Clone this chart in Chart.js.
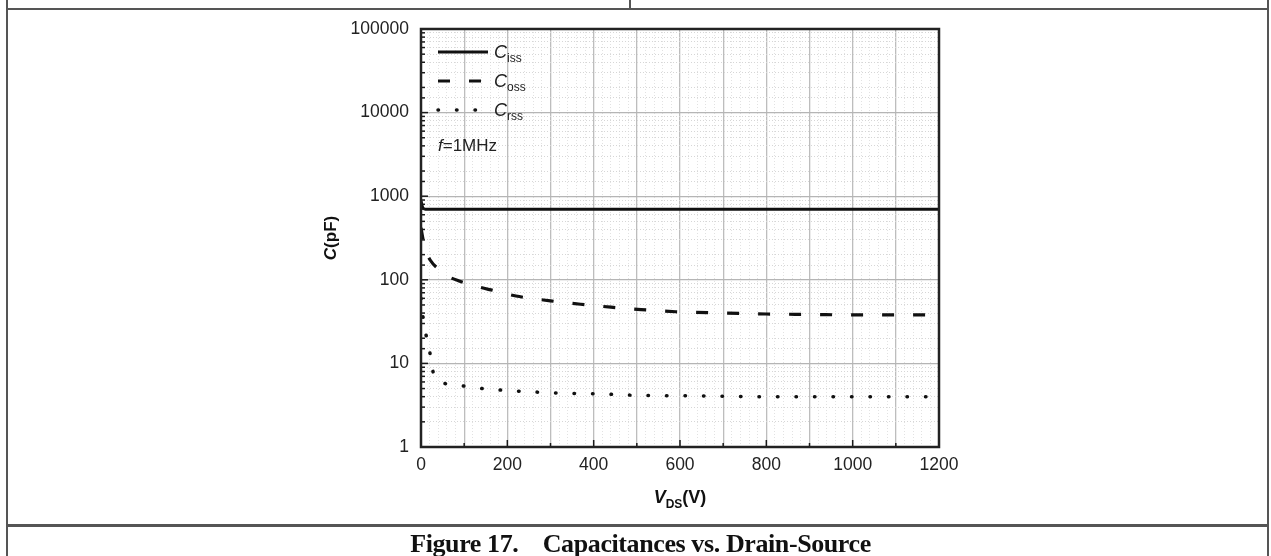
<!DOCTYPE html>
<html>
<head>
<meta charset="utf-8">
<script src="https://cdn.jsdelivr.net/npm/chart.js@4.4.1/dist/chart.umd.min.js"></script>
<style>
  html, body { margin: 0; padding: 0; background: #fff; }
  #page { position: relative; width: 1271px; height: 556px; overflow: hidden; background: #fff; }
  .rule { position: absolute; background: #555; }
  #chart { position: absolute; left: 0; top: 0; }
  #caption {
    position: absolute; left: 0; width: 1281px; top: 531px; text-align: center;
    font-family: "Liberation Serif", "Times New Roman", serif; font-weight: bold;
    font-size: 26px; line-height: 26px; color: #111; letter-spacing: -0.4px; white-space: pre;
  }
</style>
</head>
<body>
<div id="page">
  <div class="rule" style="left:6px; top:0; width:2px; height:556px;"></div>
  <div class="rule" style="left:1267px; top:0; width:2px; height:556px;"></div>
  <div class="rule" style="left:6px; top:8px; width:1263px; height:2px;"></div>
  <div class="rule" style="left:629px; top:0; width:2px; height:9px;"></div>
  <div class="rule" style="left:6px; top:524px; width:1263px; height:3px;"></div>
  <canvas id="chart" width="1271" height="556"></canvas>
  <div id="caption">Figure 17.    Capacitances vs. Drain-Source</div>
</div>
<script>
// Ciss / Coss / Crss vs VDS, f = 1 MHz
const cissV = [0, 4, 10, 100, 400, 800, 1200];
const cissC = [880, 730, 700, 700, 700, 700, 700];

const cossV = [0, 5, 12, 22, 40, 60, 90, 130, 170, 220, 300, 370, 440, 510, 590, 700, 800, 900, 1000, 1100, 1200];
const cossC = [420, 300, 220, 170, 135, 112, 96, 83, 74, 64, 56, 51, 47, 44, 41.5, 40, 39, 38.5, 38, 38, 38];

const crssV = [0, 5, 10, 17, 32, 74, 116, 157, 199, 245, 328, 420, 500, 600, 700, 800, 1000, 1200];
const crssC = [60, 35, 24, 17, 6.8, 5.6, 5.2, 4.9, 4.75, 4.6, 4.4, 4.3, 4.15, 4.1, 4.05, 4.0, 4.0, 4.0];

const yTickLabels = ["1", "10", "100", "1000", "10000", "100000"];
const xMajorStep = 200;

const textColor = "#222";
const lineColor = "#111";
const sans = "'Liberation Sans', Arial, sans-serif";

function toPoints(xs, ys) {
  return xs.map((v, i) => ({ x: v, y: ys[i] }));
}

function isDecade(v) {
  const l = Math.log10(v);
  return Math.abs(l - Math.round(l)) < 1e-9;
}

const overlayPlugin = {
  id: "overlay",
  afterDraw(chart) {
    const { ctx, chartArea: a, scales } = chart;
    const x = scales.x, y = scales.y;
    ctx.save();
    ctx.strokeStyle = "#1a1a1a";
    ctx.lineWidth = 1.5;
    // inward tick marks
    y.ticks.forEach((t) => {
      const py = y.getPixelForValue(t.value);
      const len = isDecade(t.value) ? 7 : 4;
      ctx.beginPath();
      ctx.moveTo(a.left, py);
      ctx.lineTo(a.left + len, py);
      ctx.stroke();
    });
    x.ticks.forEach((t) => {
      if (t.value % 100 !== 0) return;
      const px = x.getPixelForValue(t.value);
      const len = t.value % xMajorStep === 0 ? 7 : 4;
      ctx.beginPath();
      ctx.moveTo(px, a.bottom);
      ctx.lineTo(px, a.bottom - len);
      ctx.stroke();
    });
    // frame
    ctx.lineWidth = 2.5;
    ctx.strokeStyle = "#222";
    ctx.strokeRect(a.left, a.top, a.right - a.left, a.bottom - a.top);

    // legend
    const entries = [
      { sub: "iss", dash: [], cap: "butt" },
      { sub: "oss", dash: [12, 19], cap: "butt" },
      { sub: "rss", dash: [0.5, 18], cap: "round" },
    ];
    const lx = a.left + 17;
    entries.forEach((e, i) => {
      const ly = a.top + 23 + i * 29;
      ctx.beginPath();
      ctx.setLineDash(e.dash);
      ctx.lineCap = e.cap;
      ctx.lineWidth = e.sub === "rss" ? 3.5 : 3;
      ctx.strokeStyle = lineColor;
      ctx.moveTo(lx, ly);
      ctx.lineTo(lx + 50, ly);
      ctx.stroke();
      ctx.setLineDash([]);
      ctx.fillStyle = "#222";
      ctx.textBaseline = "alphabetic";
      ctx.font = "italic 18px " + sans;
      ctx.fillText("C", lx + 56, ly + 6);
      const cw = ctx.measureText("C").width;
      ctx.font = "12px " + sans;
      ctx.fillText(e.sub, lx + 56 + cw, ly + 10);
    });
    ctx.font = "italic 17px " + sans;
    ctx.fillStyle = "#222";
    ctx.fillText("f", lx, a.top + 122);
    const fw = ctx.measureText("f").width;
    ctx.font = "17px " + sans;
    ctx.fillText("=1MHz", lx + fw, a.top + 122);

    // axis titles
    ctx.fillStyle = "#111";
    ctx.save();
    ctx.translate(336, (a.top + a.bottom) / 2);
    ctx.rotate(-Math.PI / 2);
    ctx.textAlign = "left";
    ctx.font = "bold italic 17px " + sans;
    const c1 = ctx.measureText("C").width;
    ctx.font = "bold 17px " + sans;
    const c2 = ctx.measureText("(pF)").width;
    const start = -(c1 + c2) / 2;
    ctx.font = "bold italic 17px " + sans;
    ctx.fillText("C", start, 0);
    ctx.font = "bold 17px " + sans;
    ctx.fillText("(pF)", start + c1, 0);
    ctx.restore();

    const cx = (a.left + a.right) / 2;
    const by = 503;
    ctx.font = "bold italic 18px " + sans;
    const w1 = ctx.measureText("V").width;
    ctx.font = "bold 12px " + sans;
    const w2 = ctx.measureText("DS").width;
    ctx.font = "bold 18px " + sans;
    const w3 = ctx.measureText("(V)").width;
    let sx = cx - (w1 + w2 + w3) / 2;
    ctx.font = "bold italic 18px " + sans;
    ctx.fillText("V", sx, by);
    ctx.font = "bold 12px " + sans;
    ctx.fillText("DS", sx + w1, by + 5);
    ctx.font = "bold 18px " + sans;
    ctx.fillText("(V)", sx + w1 + w2, by);
    ctx.restore();
  },
};

const canvas = document.getElementById("chart");
new Chart(canvas, {
  type: "scatter",
  data: {
    datasets: [
      {
        label: "Ciss",
        data: toPoints(cissV, cissC),
        showLine: true,
        borderColor: lineColor,
        borderWidth: 3,
        pointRadius: 0,
        cubicInterpolationMode: "monotone",
      },
      {
        label: "Coss",
        data: toPoints(cossV, cossC),
        showLine: true,
        borderColor: lineColor,
        borderWidth: 3.2,
        borderDash: [12, 19],
        pointRadius: 0,
        cubicInterpolationMode: "monotone",
      },
      {
        label: "Crss",
        data: toPoints(crssV, crssC),
        showLine: true,
        borderColor: lineColor,
        borderWidth: 3.5,
        borderDash: [0.5, 18],
        borderCapStyle: "round",
        pointRadius: 0,
        cubicInterpolationMode: "monotone",
      },
    ],
  },
  options: {
    responsive: false,
    animation: false,
    layout: { padding: { left: 300, right: 332, top: 29, bottom: 0 } },
    plugins: {
      legend: { display: false },
      tooltip: { enabled: false },
    },
    scales: {
      x: {
        type: "linear",
        min: 0,
        max: 1200,
        afterFit: (scale) => { scale.height = 109; },
        ticks: {
          stepSize: 20,
          autoSkip: false,
          maxRotation: 0,
          padding: 8,
          color: textColor,
          font: { family: sans, size: 17.5 },
          callback: (v) => (v % xMajorStep === 0 ? String(v) : ""),
        },
        grid: {
          drawTicks: false,
          color: (c) => (c.tick && c.tick.value % 100 === 0 ? "#bdbdbd" : "#e2e2e2"),
          lineWidth: (c) => (c.tick && c.tick.value % 100 === 0 ? 1.3 : 1),
        },
        border: {
          display: false,
          dash: (c) => (c.tick && c.tick.value % 100 === 0 ? [] : [1, 2]),
        },
      },
      y: {
        type: "logarithmic",
        min: 1,
        max: 100000,
        afterFit: (scale) => { scale.width = 121; },
        ticks: {
          autoSkip: false,
          padding: 12,
          color: textColor,
          font: { family: sans, size: 17.5 },
          callback: (v) => (isDecade(v) ? yTickLabels[Math.round(Math.log10(v))] : ""),
        },
        grid: {
          drawTicks: false,
          color: (c) => (c.tick && isDecade(c.tick.value) ? "#b5b5b5" : "#d6d6d6"),
          lineWidth: (c) => (c.tick && isDecade(c.tick.value) ? 1.3 : 1),
        },
        border: {
          display: false,
          dash: (c) => (c.tick && isDecade(c.tick.value) ? [] : [1, 2]),
        },
      },
    },
  },
  plugins: [overlayPlugin],
});
</script>
</body>
</html>
